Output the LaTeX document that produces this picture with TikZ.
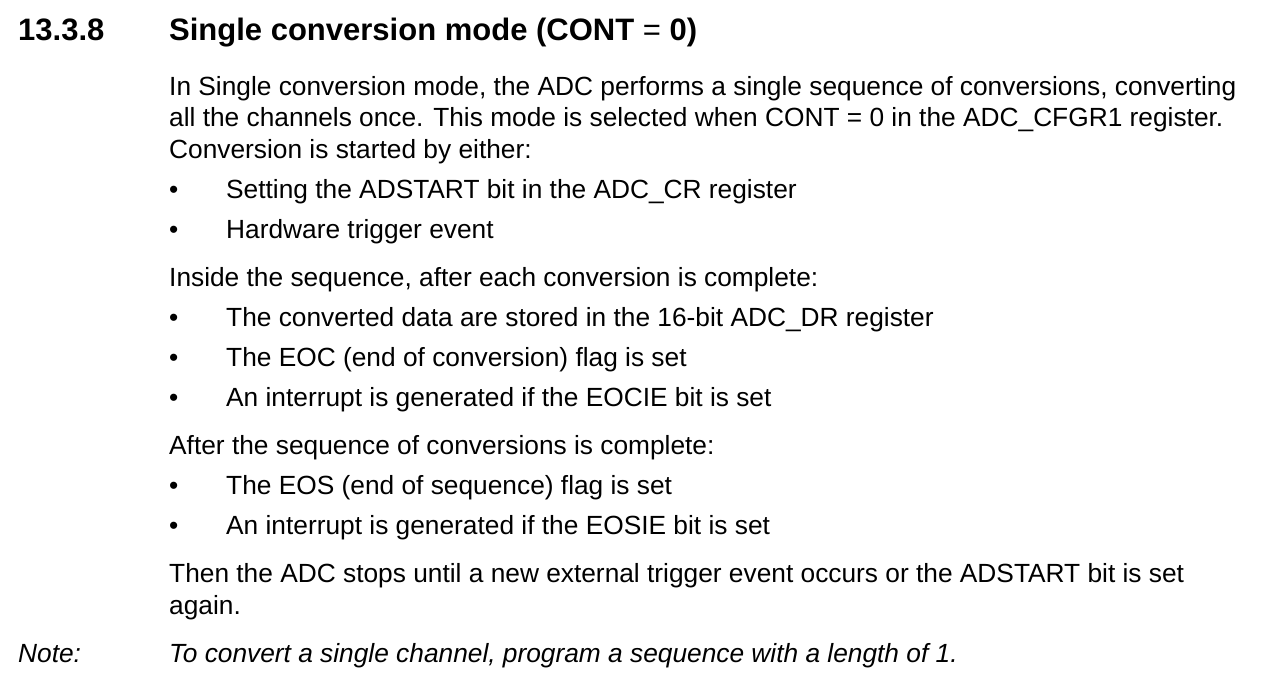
\documentclass[tikz,border=0pt]{standalone}
\usepackage{fontspec}
\setmainfont{Liberation Sans}
\begin{document}
\begin{tikzpicture}[x=1pt,y=1pt,
  txt/.style={anchor=base west,inner sep=0pt,font=\fontsize{26.3}{30}\selectfont},
  hd/.style={anchor=base west,inner sep=0pt,font=\fontsize{31}{34}\selectfont\bfseries}]
\useasboundingbox (0,0) rectangle (1270,-682);
\node[hd] (num) at (18,-41) {13.3.8};
\node[hd] (title) at (169,-41) {Single conversion mode (CONT {\mdseries =} 0)};
\foreach \y/\t [count=\i] in {
 86/{In Single conversion mode, the ADC performs a single sequence of conversions, converting},
 117/{all the channels once. This mode is selected when CONT = 0 in the ADC\_CFGR1 register.},
 149/{Conversion is started by either:},
 277/{Inside the sequence, after each conversion is complete:},
 445/{After the sequence of conversions is complete:},
 573/{Then the ADC stops until a new external trigger event occurs or the ADSTART bit is set},
 605/{again.}}
 \node[txt] (p\i) at (169,-\y-9.5) {\t};
\foreach \y/\t [count=\i] in {
 189/{Setting the ADSTART bit in the ADC\_CR register},
 229/{Hardware trigger event},
 317/{The converted data are stored in the 16-bit ADC\_DR register},
 357/{The EOC (end of conversion) flag is set},
 397/{An interrupt is generated if the EOCIE bit is set},
 485/{The EOS (end of sequence) flag is set},
 525/{An interrupt is generated if the EOSIE bit is set}}
 {\node[txt] (b\i) at (169,-\y-9.5) {\textbullet};
  \node[txt] (t\i) at (226,-\y-9.5) {\t};}
\node[txt,font=\fontsize{26.3}{30}\selectfont\itshape] (note) at (18,-662.5) {Note:};
\node[txt,font=\fontsize{26.3}{30}\selectfont\itshape] (notet) at (169,-662.5) {To convert a single channel, program a sequence with a length of 1.};
\end{tikzpicture}
\end{document}
